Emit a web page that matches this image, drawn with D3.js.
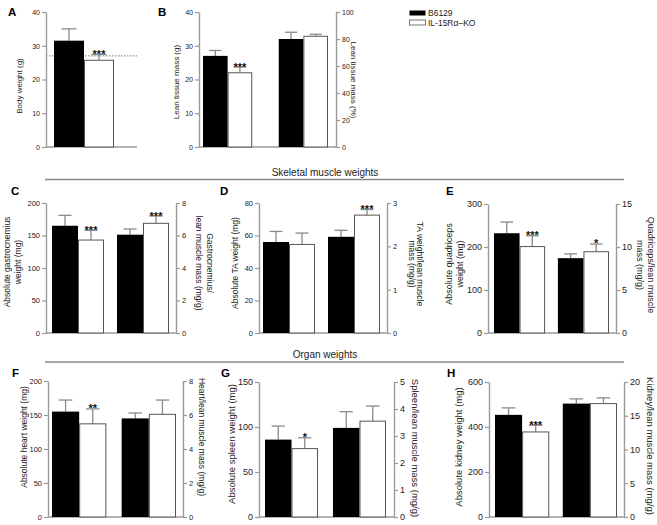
<!DOCTYPE html>
<html><head><meta charset="utf-8">
<script src="https://cdn.jsdelivr.net/npm/d3@7"></script>
<style>body{margin:0;background:#fff} svg{display:block;font-family:Arial,"Liberation Sans",Helvetica,sans-serif}</style>
</head><body><svg id="c" width="657" height="525"></svg>
<script>
// ---------- data ----------
const groups = ["B6129", "IL-15Rα–KO"];
const panelLetters = ["A","B","C","D","E","F","G","H"];
const measures = ["abs","ratio"];
const leftMeans  = [[31.5,25.7],[27.0,22.0],[165,143],[56,54.5],[232,201],[155,137],[86,76],[454,378]];
const leftSems   = [[3.5,1.7],[1.6,1.7],[16,15],[6.5,7],[26,25],[17,22],[15,12],[31,30]];
const rightMeans = [null,[80,82],[6.05,6.75],[2.22,2.72],[8.7,9.45],[5.8,6.04],[3.3,3.55],[16.8,16.8]];
const rightSems  = [null,[5,1.5],[0.35,0.45],[0.15,0.13],[0.5,0.9],[0.32,0.84],[0.6,0.56],[0.7,0.85]];
const leftStars  = [["","***"],["","***"],["","***"],["",""],["","***"],["","**"],["","*"],["","***"]];
const rightStars = [null,["",""],["","***"],["","***"],["","*"],["",""],["",""],["",""]];
const leftMax    = [40,40,200,80,300,200,150,600];
const leftTicks  = [[0,10,20,30,40],[0,10,20,30,40],[0,50,100,150,200],[0,20,40,60,80],[0,100,200,300],[0,50,100,150,200],[0,50,100,150],[0,200,400,600]];
const rightMax   = [null,100,8,3,15,8,5,20];
const rightTicks = [null,[0,20,40,60,80,100],[0,2,4,6,8],[0,1,2,3],[0,5,10,15],[0,2,4,6,8],[0,1,2,3,4,5],[0,5,10,15,20]];
const leftLabels = [["Body weight (g)"],["Lean tissue mass (g)"],["Absolute gastrocnemius","weight (mg)"],["Absolute TA weight (mg)"],["Absolute quadriceps","weight (mg)"],["Absolute heart weight (mg)"],["Absolute spleen weight (mg)"],["Absolute kidney weight (mg)"]];
const rightLabels = [null,["Lean tissue mass (%)"],["Gastrocnemius/","lean muscle mass (mg/g)"],["TA weight/lean muscle","mass (mg/g)"],["Quadriceps/lean muscle","mass (mg/g)"],["Heart/lean muscle mass (mg/g)"],["Spleen/lean muscle mass (mg/g)"],["Kidney/lean muscle mass (mg/g)"]];
const bodyWeightRef = 27;
const sectionTitles = ["Skeletal muscle weights","Organ weights"];

// ---------- layout ----------
const layout = [
 {L:46, R:137, top:12, bot:147, b0:54, b1:114, pad:0, letter:[8,16], lab:[19.5], labY:86, tick:7, lfs:8},
 {L:199,R:336, top:12, bot:147, b0:203, b1:328, pad:0.35, letter:[158,16], lab:[176], labY:82, rlab:[354], rlabY:80, tick:7, lfs:8},
 {L:46, R:176, top:203, bot:333, b0:52, b1:169, pad:0.2, letter:[11,195], lab:[7,18.5], labY:262, rlab:[210,198.5], rlabY:263, tick:7.5, lfs:8.5},
 {L:259,R:387, top:203, bot:333, b0:263,b1:380, pad:0.2, letter:[220,195], lab:[235], labY:263, rlab:[420,412], rlabY:264, tick:7.5, lfs:8.5},
 {L:488,R:616, top:204, bot:333, b0:494,b1:609, pad:0.2, letter:[446,195], lab:[449,460], labY:264, rlab:[651,640], rlabY:265, tick:9, lfs:9},
 {L:48, R:183, top:381, bot:517, b0:52, b1:176, pad:0.22, letter:[12,377], lab:[24], labY:437, rlab:[202], rlabY:437, tick:7.5, lfs:8.5},
 {L:259,R:394, top:382, bot:517, b0:265,b1:386, pad:0.22, letter:[221,377], lab:[232], labY:444, rlab:[415], rlabY:448, tick:9, lfs:9.5},
 {L:489,R:624, top:382, bot:517, b0:495,b1:617, pad:0.2, letter:[447,377], lab:[459], labY:447, rlab:[650], rlabY:446, tick:9, lfs:9.5}
];
const AX = "#9a9a9a", ERR = "#8a8a8a", OUT = "#555", TXT = "#222";

const svg = d3.select("#c");

function styleAxis(g, fs){
  g.select(".domain").attr("stroke", AX).attr("stroke-width", 1.4);
  g.selectAll(".tick line").attr("stroke", AX).attr("stroke-width", 1.2);
  g.selectAll(".tick text").attr("fill", TXT).attr("font-size", fs).attr("font-family", "Arial, 'Liberation Sans', sans-serif");
}

panelLetters.forEach((letter, i) => {
  const P = layout[i];
  const g = svg.append("g");
  const hasRight = rightMeans[i] !== null;
  const yL = d3.scaleLinear().domain([0, leftMax[i]]).range([P.bot, P.top]);
  const yR = hasRight ? d3.scaleLinear().domain([0, rightMax[i]]).range([P.bot, P.top]) : null;
  const outer = d3.scaleBand().domain(hasRight ? measures : ["abs"]).range([P.b0, P.b1]).paddingInner(P.pad);
  const inner = d3.scaleBand().domain(groups).range([0, outer.bandwidth()]);

  // baseline
  g.append("line").attr("x1", P.L).attr("x2", P.R).attr("y1", P.bot).attr("y2", P.bot)
    .attr("stroke", AX).attr("stroke-width", 1.4);

  // reference dotted line (panel A)
  if (i === 0) {
    g.append("line").attr("x1", P.L).attr("x2", P.R).attr("y1", yL(bodyWeightRef)).attr("y2", yL(bodyWeightRef))
      .attr("stroke", "#777").attr("stroke-width", 1).attr("stroke-dasharray", "1.5,1.5");
  }

  const sets = [{m:"abs", y:yL, means:leftMeans[i], sems:leftSems[i], stars:leftStars[i]}];
  if (hasRight) sets.push({m:"ratio", y:yR, means:rightMeans[i], sems:rightSems[i], stars:rightStars[i]});

  sets.forEach(s => {
    const data = groups.map((gr, k) => ({gr, k, v:s.means[k], e:s.sems[k], st:s.stars[k]}));
    const cx = d => outer(s.m) + inner(d.gr) + inner.bandwidth()/2;
    const capW = inner.bandwidth()*0.5;
    // error bars
    g.selectAll(null).data(data).enter().append("line")
      .attr("x1", cx).attr("x2", cx).attr("y1", d => s.y(d.v)).attr("y2", d => s.y(d.v + d.e))
      .attr("stroke", ERR).attr("stroke-width", 1.3);
    g.selectAll(null).data(data).enter().append("line")
      .attr("x1", d => cx(d) - capW/2).attr("x2", d => cx(d) + capW/2)
      .attr("y1", d => s.y(d.v + d.e)).attr("y2", d => s.y(d.v + d.e))
      .attr("stroke", ERR).attr("stroke-width", 1.3);
    // bars
    g.selectAll(null).data(data).enter().append("rect")
      .attr("x", d => outer(s.m) + inner(d.gr) + (d.k ? 0.5 : 0))
      .attr("width", d => inner.bandwidth() - (d.k ? 1 : 0))
      .attr("y", d => s.y(d.v))
      .attr("height", d => P.bot - s.y(d.v))
      .attr("fill", d => d.k ? "#fff" : "#000")
      .attr("stroke", d => d.k ? OUT : "none")
      .attr("stroke-width", 1);
    // stars
    g.selectAll(null).data(data.filter(d => d.st)).enter().append("text")
      .attr("x", cx).attr("y", d => s.y(d.v + d.e) + 3.5)
      .attr("text-anchor", "middle").attr("font-size", 11).attr("font-weight", "bold")
      .attr("fill", "#111").text(d => d.st);
  });

  // axes
  const ga = g.append("g").attr("transform", `translate(${P.L},0)`)
    .call(d3.axisLeft(yL).tickValues(leftTicks[i]).tickSize(4).tickSizeOuter(0).tickPadding(2).tickFormat(d3.format("d")));
  styleAxis(ga, P.tick);
  if (hasRight) {
    const gr = g.append("g").attr("transform", `translate(${P.R},0)`)
      .call(d3.axisRight(yR).tickValues(rightTicks[i]).tickSize(4).tickSizeOuter(0).tickPadding(2).tickFormat(d3.format("d")));
    styleAxis(gr, P.tick);
  }

  // labels
  leftLabels[i].forEach((t, j) => {
    g.append("text").attr("transform", `translate(${P.lab[j]},${P.labY}) rotate(-90)`)
      .attr("text-anchor", "middle").attr("dy", "0.35em").attr("font-size", P.lfs).attr("fill", TXT).text(t);
  });
  if (hasRight) {
    rightLabels[i].forEach((t, j) => {
      g.append("text").attr("transform", `translate(${P.rlab[j]},${P.rlabY}) rotate(90)`)
        .attr("text-anchor", "middle").attr("dy", "0.35em").attr("font-size", P.lfs).attr("fill", TXT).text(t);
    });
  }
  // panel letter
  g.append("text").attr("x", P.letter[0]).attr("y", P.letter[1]).attr("font-size", 11.5)
    .attr("font-weight", "bold").attr("fill", "#000").text(letter);
});

// section headers
const secY = [{t:176, l:179.5}, {t:358, l:362}];
sectionTitles.forEach((t, k) => {
  svg.append("text").attr("x", 325).attr("y", secY[k].t).attr("text-anchor", "middle")
    .attr("font-size", 10).attr("fill", TXT).text(t);
  svg.append("line").attr("x1", 45).attr("x2", 624).attr("y1", secY[k].l).attr("y2", secY[k].l)
    .attr("stroke", "#888").attr("stroke-width", 1.6);
});

// legend
const lg = svg.append("g");
groups.forEach((gr, k) => {
  lg.append("rect").attr("x", 409.5).attr("y", 10.5 + k*9.5).attr("width", 16).attr("height", 5)
    .attr("fill", k ? "#fff" : "#000").attr("stroke", k ? OUT : "none").attr("stroke-width", 0.8);
  lg.append("text").attr("x", 428).attr("y", 16 + k*9.5).attr("font-size", 8.5).attr("fill", TXT).text(gr);
});
</script></body></html>
